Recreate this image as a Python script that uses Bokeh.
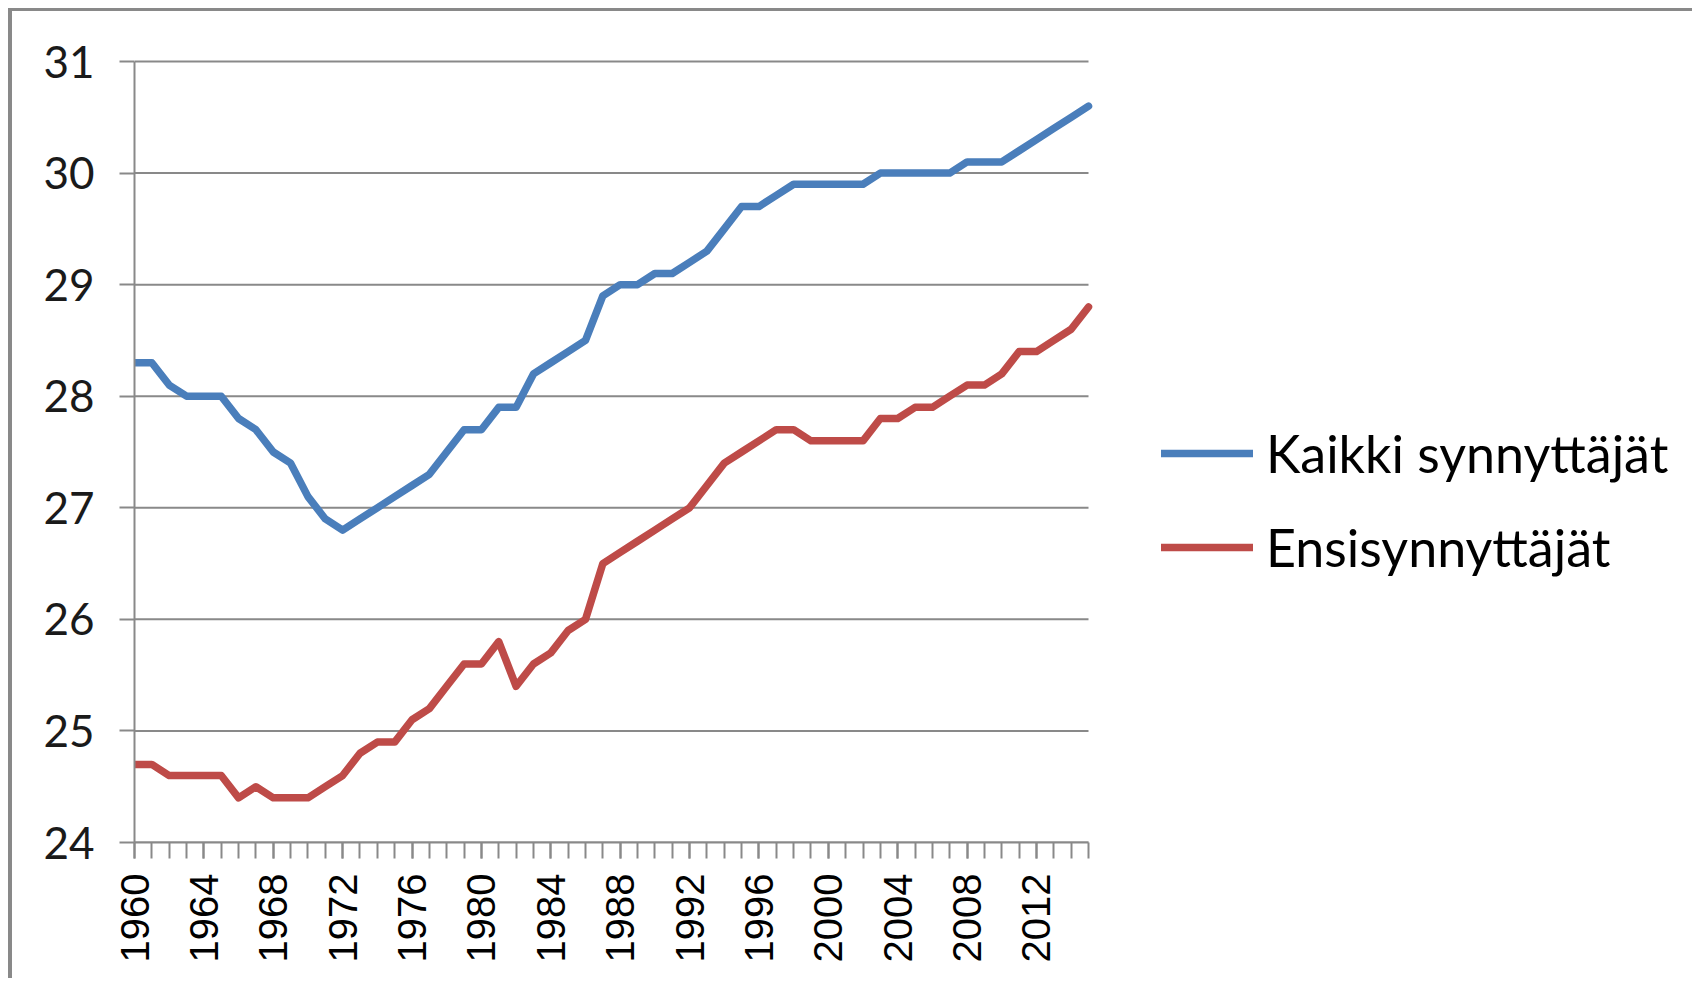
from bokeh.plotting import figure
from bokeh.models import Range1d, FixedTicker, Legend, LegendItem
from bokeh.embed import file_html
from bokeh.resources import INLINE
import math

years = list(range(1960, 2016))
kaikki = [28.3, 28.3, 28.1, 28.0, 28.0, 28.0, 27.8, 27.7, 27.5, 27.4,
          27.1, 26.9, 26.8, 26.9, 27.0, 27.1, 27.2, 27.3, 27.5, 27.7,
          27.7, 27.9, 27.9, 28.2, 28.3, 28.4, 28.5, 28.9, 29.0, 29.0,
          29.1, 29.1, 29.2, 29.3, 29.5, 29.7, 29.7, 29.8, 29.9, 29.9,
          29.9, 29.9, 29.9, 30.0, 30.0, 30.0, 30.0, 30.0, 30.1, 30.1,
          30.1, 30.2, 30.3, 30.4, 30.5, 30.6]
ensi = [24.7, 24.7, 24.6, 24.6, 24.6, 24.6, 24.4, 24.5, 24.4, 24.4,
        24.4, 24.5, 24.6, 24.8, 24.9, 24.9, 25.1, 25.2, 25.4, 25.6,
        25.6, 25.8, 25.4, 25.6, 25.7, 25.9, 26.0, 26.5, 26.6, 26.7,
        26.8, 26.9, 27.0, 27.2, 27.4, 27.5, 27.6, 27.7, 27.7, 27.6,
        27.6, 27.6, 27.6, 27.8, 27.8, 27.9, 27.9, 28.0, 28.1, 28.1,
        28.2, 28.4, 28.4, 28.5, 28.6, 28.8]
series_names = ["Kaikki synnyttäjät", "Ensisynnyttäjät"]
series_colors = ["#4A7EBB", "#BE4B48"]
x_tick_labels = list(range(1960, 2013, 4))
y_ticks = [24, 25, 26, 27, 28, 29, 30, 31]

GRAY = "#898989"

# layout (pixels)
W, H = 1684, 970
ML, MT, MB = 122, 40, 139
frame_w = W - ML
frame_h = H - MT - MB
plot_w = 954      # pixel width of 1960..2015
plot_h = 781      # pixel height of 24..31
x_end = years[0] + (years[-1] - years[0]) * frame_w / plot_w
y_end = y_ticks[0] + (y_ticks[-1] - y_ticks[0]) * frame_h / plot_h

p = figure(width=W, height=H, output_backend="svg", toolbar_location=None,
           x_range=Range1d(years[0], x_end), y_range=Range1d(y_ticks[0], y_end),
           min_border_left=ML, min_border_right=0,
           min_border_top=MT, min_border_bottom=MB)
p.styles = {"border-top": "3px solid " + GRAY, "border-left": "4px solid " + GRAY,
            "margin-top": "8px", "margin-left": "8px"}
p.outline_line_color = None
p.background_fill_color = "white"
p.border_fill_color = "white"

# x axis
p.xaxis.bounds = (years[0], years[-1])
p.xaxis.ticker = FixedTicker(ticks=x_tick_labels, minor_ticks=years)
p.xaxis.major_label_orientation = math.pi / 2
p.xaxis.major_label_text_font = "Liberation Sans"
p.xaxis.major_label_text_font_size = "40px"
p.xaxis.major_label_text_color = "#000000"
p.xaxis.major_label_standoff = 15
p.xaxis.major_tick_out = 16
p.xaxis.major_tick_in = 0
p.xaxis.minor_tick_out = 16
p.xaxis.minor_tick_in = 0
p.xaxis.axis_line_color = GRAY
p.xaxis.axis_line_width = 2
p.xaxis.major_tick_line_color = GRAY
p.xaxis.major_tick_line_width = 2
p.xaxis.minor_tick_line_color = GRAY
p.xaxis.minor_tick_line_width = 2
p.xgrid.grid_line_color = None

# y axis
p.yaxis.bounds = (y_ticks[0], y_ticks[-1])
p.yaxis.ticker = FixedTicker(ticks=y_ticks)
p.yaxis.major_label_text_font = "Lato"
p.yaxis.major_label_text_font_size = "44px"
p.yaxis.major_label_text_color = "#1a1a1a"
p.yaxis.major_label_standoff = 25
p.yaxis.major_tick_out = 15
p.yaxis.major_tick_in = 0
p.yaxis.minor_tick_line_color = None
p.yaxis.axis_line_color = GRAY
p.yaxis.axis_line_width = 2
p.yaxis.major_tick_line_color = GRAY
p.yaxis.major_tick_line_width = 2
p.ygrid.grid_line_color = None

# horizontal gridlines spanning only the category range
p.segment(x0=[years[0]] * len(y_ticks), x1=[years[-1]] * len(y_ticks),
          y0=y_ticks, y1=y_ticks, line_color=GRAY, line_width=2)

r1 = p.line(years, kaikki, line_color=series_colors[0], line_width=7.5,
            line_join="round", line_cap="round")
r2 = p.line(years, ensi, line_color=series_colors[1], line_width=7.5,
            line_join="round", line_cap="round")

legend = Legend(items=[LegendItem(label=series_names[0], renderers=[r1]),
                       LegendItem(label=series_names[1], renderers=[r2])],
                location=(1027, 264), orientation="vertical",
                padding=0, margin=0, spacing=32,
                glyph_width=92, glyph_height=60, label_height=60,
                label_standoff=13,
                label_text_font="Lato", label_text_font_size="52px",
                label_text_color="#000000",
                border_line_color=None, background_fill_alpha=0)
p.add_layout(legend, "center")

open("out.html", "w").write(file_html(p, INLINE))
